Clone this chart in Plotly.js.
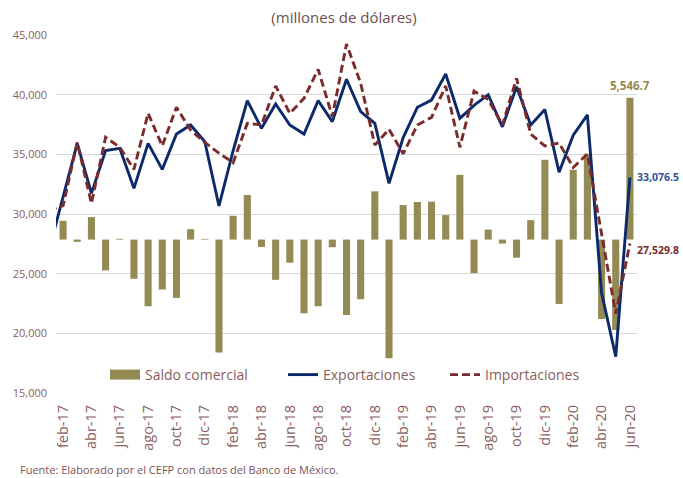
<!DOCTYPE html>
<html>
<head>
<meta charset="utf-8">
<script src="https://cdn.plot.ly/plotly-3.0.1.min.js"></script>
<style>html,body{margin:0;padding:0;background:#fff;}#chart{width:683px;height:478px;}</style>
</head>
<body>
<div id="chart"></div>
<script>
const months = ["ene-17","feb-17","mar-17","abr-17","may-17","jun-17","jul-17","ago-17","sep-17","oct-17","nov-17","dic-17",
  "ene-18","feb-18","mar-18","abr-18","may-18","jun-18","jul-18","ago-18","sep-18","oct-18","nov-18","dic-18",
  "ene-19","feb-19","mar-19","abr-19","may-19","jun-19","jul-19","ago-19","sep-19","oct-19","nov-19","dic-19",
  "ene-20","feb-20","mar-20","abr-20","may-20","jun-20"];

const exportaciones = [26950,31480,35920,31730,35310,35500,32150,35920,33740,36700,37460,36060,
  30670,35300,39500,37180,39220,37460,36700,39500,37740,41290,38580,37600,
  32570,36400,38940,39550,41730,38020,39100,40000,37300,40670,37450,38750,
  33500,36600,38300,23400,18050,33076.5];

const importaciones = [30300,30700,36000,30890,36430,35590,33740,38440,35700,38940,37040,36000,
  35100,34300,37600,37460,40730,38440,39690,42120,38160,44250,40950,35780,
  37100,35050,37460,38100,40730,35590,40300,39600,37450,41370,36700,35700,
  35950,33900,35030,28300,21650,27529.8];

const saldo = [-3350,734,-90,880,-1206,30,-1533,-2608,-1953,-2280,406,25,
  -4417,930,1743,-288,-1573,-904,-2883,-2608,-300,-2949,-2333,1887,
  -4640,1350,1468,1481,957,2529,-1311,393,-157,-708,760,3119,
  -2516,2726,3355,-3106,-3539,5546.7];

const tickLabels = months.filter((m, i) => i % 2 === 1);

const C_BAR = '#948A54', C_EXP = '#0c2a6a', C_IMP = '#7a2b2b', C_TXT = '#8a5e5e';
const FONT = 'Open Sans, Lato, sans-serif';
const last = months.length - 1;
const fmt = v => v.toLocaleString('en-US', {minimumFractionDigits: 1, maximumFractionDigits: 1});

const traces = [
  {type: 'bar', x: months, y: saldo, yaxis: 'y', marker: {color: C_BAR}, showlegend: false, name: 'Saldo comercial', hoverinfo: 'x+y'},
  {type: 'scatter', mode: 'lines', x: [months[1]], y: [null], yaxis: 'y2', name: 'Saldo comercial',
   line: {color: C_BAR, width: 10}, legend: 'legend', showlegend: true},
  {type: 'scatter', mode: 'lines', x: months, y: exportaciones, yaxis: 'y2', name: 'Exportaciones',
   line: {color: C_EXP, width: 2.9}, legend: 'legend2'},
  {type: 'scatter', mode: 'lines', x: months, y: importaciones, yaxis: 'y2', name: 'Importaciones',
   line: {color: C_IMP, width: 2.9, dash: '8px,4px'}, legend: 'legend3'}
];

const L = 56, R = 637, T = 35, B = 393;
const pw = R - L, ph = B - T;
const px = x => (x - L) / pw;
const py = y => (B - y) / ph;
const legendBase = {orientation: 'h', yanchor: 'middle', y: py(375), xanchor: 'left', bgcolor: 'rgba(0,0,0,0)',
  font: {family: FONT, size: 14, color: C_TXT}};

const layout = {
  width: 683, height: 478,
  margin: {l: L, r: 683 - R, t: T, b: 478 - B, pad: 0},
  paper_bgcolor: '#fff', plot_bgcolor: '#fff',
  font: {family: FONT, color: C_TXT},
  title: {text: '(millones de dólares)', x: 344 / 683, xanchor: 'center', y: 1 - 18 / 478, yanchor: 'middle',
    font: {family: FONT, size: 15, color: '#6e5050'}},
  bargap: 0.5,
  xaxis: {type: 'category', categoryorder: 'array', categoryarray: months, range: [0.5, months.length - 0.5],
    tickmode: 'array', tickvals: tickLabels, ticktext: tickLabels, tickangle: -90,
    showgrid: false, zeroline: false, showline: false, ticks: '', ticklabelstandoff: 8,
    tickfont: {family: FONT, size: 14.5, color: C_TXT}},
  yaxis: {range: [-6000, 8000], visible: false, fixedrange: true},
  yaxis2: {overlaying: 'y', side: 'left', range: [15000, 45000], dtick: 5000, tickformat: ',d',
    showgrid: true, gridcolor: '#d9d9d9', gridwidth: 1, zeroline: false, showline: false, ticks: '',
    ticklabelstandoff: 8, tickfont: {family: FONT, size: 11, color: C_TXT}},
  legend: Object.assign({}, legendBase, {x: px(105)}),
  legend2: Object.assign({}, legendBase, {x: px(283)}),
  legend3: Object.assign({}, legendBase, {x: px(445)}),
  annotations: [
    {xref: 'x', yref: 'y', x: months[last], y: saldo[last], text: fmt(saldo[last]), showarrow: false,
      yanchor: 'bottom', yshift: 3, font: {family: FONT, size: 11.5, color: C_BAR, weight: 'bold'}},
    {xref: 'x', yref: 'y2', x: months[last], y: exportaciones[last], text: fmt(exportaciones[last]), showarrow: false,
      xanchor: 'left', xshift: 5, yanchor: 'middle', font: {family: FONT, size: 10.5, color: '#2f5496', weight: 'bold'}},
    {xref: 'x', yref: 'y2', x: months[last], y: importaciones[last], text: fmt(importaciones[last]), showarrow: false,
      xanchor: 'left', xshift: 5, yanchor: 'middle', yshift: -7, font: {family: FONT, size: 10.5, color: C_IMP, weight: 'bold'}},
    {xref: 'paper', yref: 'paper', x: px(18), y: py(460), xanchor: 'left', yanchor: 'top', showarrow: false,
      text: 'Fuente: Elaborado por el CEFP con datos del Banco de México.', font: {family: FONT, size: 11, color: '#7a5555'}}
  ]
};

Plotly.newPlot('chart', traces, layout, {staticPlot: true, displayModeBar: false});
</script>
</body>
</html>
